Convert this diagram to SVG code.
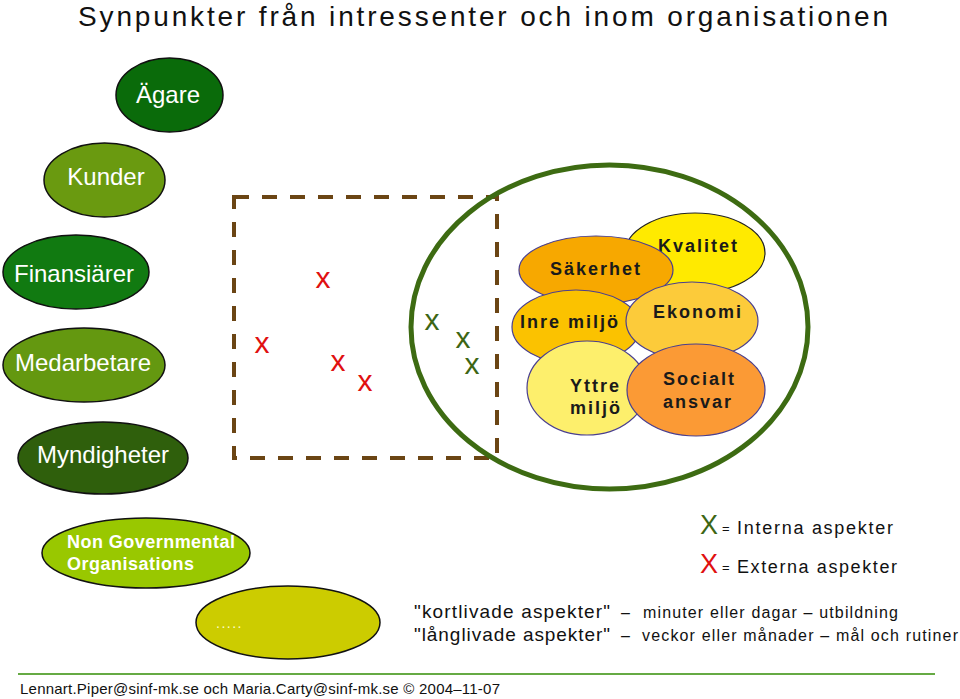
<svg xmlns="http://www.w3.org/2000/svg" width="960" height="699" viewBox="0 0 960 699">
<style>
  .lbl { font-family: "Liberation Sans", Arial, sans-serif; font-size: 24px; fill: #ffffff; text-anchor: middle; }
  .outer { stroke: #111; stroke-width: 1.5; }
  .inner { stroke: #4a3f8f; stroke-width: 1.2; }
  .in { font-family: "Liberation Sans", Arial, sans-serif; font-size: 18px; font-weight: bold; fill: #1a1a1a; letter-spacing: 2px; }
  .xr { font-family: "Liberation Sans", Arial, sans-serif; font-size: 30px; fill: #e01010; text-anchor: middle; }
  .xg { font-family: "Liberation Sans", Arial, sans-serif; font-size: 30px; fill: #3d6614; text-anchor: middle; }
  .txt { font-family: "Liberation Sans", Arial, sans-serif; fill: #111; }
  .ngo { font-family: "Liberation Sans", Arial, sans-serif; font-size: 18px; font-weight: bold; fill: #ffffff; }
</style>
<rect width="960" height="699" fill="#ffffff"/>

<text class="txt" x="78" y="26" font-size="28" textLength="810" lengthAdjust="spacing">Synpunkter från intressenter och inom organisationen</text>

<g id="agare"><ellipse class="outer" cx="169.5" cy="95" rx="53.5" ry="37" fill="#0a6b0a"/><text class="lbl" x="168" y="103">Ägare</text></g>
<g id="kunder"><ellipse class="outer" cx="104.5" cy="180" rx="60.5" ry="37" fill="#6a9a10"/><text class="lbl" x="106" y="185">Kunder</text></g>
<g id="finansiarer"><ellipse class="outer" cx="76" cy="272" rx="73" ry="37" fill="#117a11"/><text class="lbl" x="74" y="282">Finansiärer</text></g>
<g id="medarbetare"><ellipse class="outer" cx="84" cy="365" rx="81" ry="37" fill="#649810"/><text class="lbl" x="83" y="371">Medarbetare</text></g>
<g id="myndigheter"><ellipse class="outer" cx="103" cy="458" rx="85" ry="36" fill="#2f5f0c"/><text class="lbl" x="103" y="463">Myndigheter</text></g>
<g id="ngo"><ellipse class="outer" cx="146" cy="553" rx="104" ry="35" fill="#99c800"/>
  <text class="ngo" x="67" y="548" textLength="168" lengthAdjust="spacing">Non Governmental</text>
  <text class="ngo" x="67" y="570" textLength="127" lengthAdjust="spacing">Organisations</text></g>
<g id="ovriga"><ellipse class="outer" cx="288" cy="622.5" rx="92" ry="36.5" fill="#cccc00"/>
  <text x="216" y="628" font-family="Liberation Sans, Arial, sans-serif" font-size="14" fill="#ffffcc" letter-spacing="1.5">.....</text></g>

<g id="granser">
  <rect x="234" y="197" width="263" height="261" fill="none" stroke="#6b4514" stroke-width="4" stroke-dasharray="15 13"/>
  <ellipse cx="609.5" cy="327" rx="198.5" ry="162" fill="none" stroke="#3d6b12" stroke-width="5"/>
</g>

<g id="externa">
  <text class="xr" x="323" y="288">x</text>
  <text class="xr" x="262" y="353">x</text>
  <text class="xr" x="338" y="371">x</text>
  <text class="xr" x="365" y="391">x</text>
</g>
<g id="interna">
  <text class="xg" x="432" y="330">x</text>
  <text class="xg" x="463" y="348">x</text>
  <text class="xg" x="472" y="374">x</text>
</g>

<g id="kvalitet"><ellipse cx="695" cy="253" rx="70" ry="40" fill="#ffea00" stroke="#222" stroke-width="1.2"/><text class="in" x="658" y="252">Kvalitet</text></g>
<g id="sakerhet"><ellipse class="inner" cx="596" cy="270" rx="77" ry="34" fill="#f7a800"/><text class="in" x="550" y="275">Säkerhet</text></g>
<g id="inremiljo"><ellipse class="inner" cx="576" cy="327" rx="64" ry="37" fill="#fbc200"/><text class="in" x="520" y="328">Inre miljö</text></g>
<g id="ekonomi"><ellipse class="inner" cx="692" cy="321" rx="66" ry="39" fill="#fccb3a"/><text class="in" x="653" y="318">Ekonomi</text></g>
<g id="yttremiljo"><ellipse class="inner" cx="587" cy="388" rx="60" ry="47" fill="#fdef6c"/><text class="in" x="570" y="392">Yttre</text><text class="in" x="570" y="414">miljö</text></g>
<g id="socialt"><ellipse class="inner" cx="696" cy="390" rx="69" ry="46" fill="#fb9a35"/><text class="in" x="663" y="385">Socialt</text><text class="in" x="663" y="408">ansvar</text></g>

<g id="legend">
  <text x="700" y="534" font-family="Liberation Sans, Arial, sans-serif" font-size="27" fill="#3d6614">X</text>
  <text class="txt" x="722" y="533" font-size="13">=</text>
  <text class="txt" x="737" y="534" font-size="18" textLength="156" lengthAdjust="spacing">Interna aspekter</text>
  <text x="700" y="573" font-family="Liberation Sans, Arial, sans-serif" font-size="27" fill="#e01010">X</text>
  <text class="txt" x="722" y="572" font-size="13">=</text>
  <text class="txt" x="737" y="573" font-size="18" textLength="160" lengthAdjust="spacing">Externa aspekter</text>
</g>

<g id="noter">
  <text class="txt" x="414" y="618" font-size="19" textLength="196" lengthAdjust="spacing">"kortlivade aspekter"</text>
  <text class="txt" x="621" y="618" font-size="16">–</text>
  <text class="txt" x="643" y="618" font-size="16" textLength="255" lengthAdjust="spacing">minuter eller dagar – utbildning</text>
  <text class="txt" x="414" y="641" font-size="19" textLength="196" lengthAdjust="spacing">"långlivade aspekter"</text>
  <text class="txt" x="621" y="641" font-size="16">–</text>
  <text class="txt" x="642" y="641" font-size="16" textLength="316" lengthAdjust="spacing">veckor eller månader – mål och rutiner</text>
</g>

<g id="footer">
  <line x1="18" y1="674" x2="935" y2="674" stroke="#66aa44" stroke-width="2"/>
  <text class="txt" x="20" y="694" font-size="15" textLength="480" lengthAdjust="spacing">Lennart.Piper@sinf-mk.se och Maria.Carty@sinf-mk.se © 2004–11-07</text>
</g>
</svg>
